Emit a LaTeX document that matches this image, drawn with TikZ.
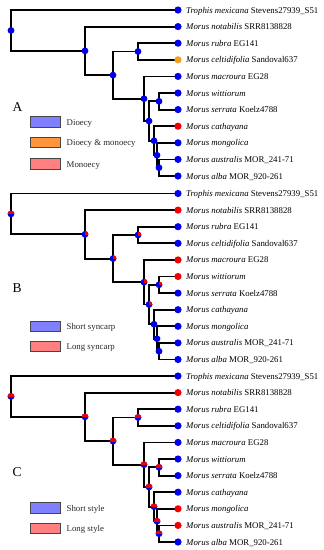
\documentclass[tikz,border=0pt]{standalone}
\usepackage{fontspec}
\setmainfont{Liberation Serif}
\usetikzlibrary{calc}
\pgfdeclarelayer{bg}
\pgfsetlayers{bg,main}
\definecolor{dotblue}{RGB}{0,0,235}
\definecolor{dotred}{RGB}{240,0,0}
\definecolor{dotorange}{RGB}{240,160,30}
\definecolor{legblue}{RGB}{128,128,255}
\definecolor{legorange}{RGB}{255,150,60}
\definecolor{legpink}{RGB}{255,128,128}
\definecolor{legedge}{RGB}{70,70,70}

\newcommand{\tipsep}{16.6}

\newcommand{\phylotree}[3]{%
  \foreach \i/\c in {#3}
    \node[tipdot, fill=\c] (#1t\i) at (178, {#2+10+\tipsep*\i}) {};
  \foreach \i/\lab in {0/{\textit{Trophis mexicana} Stevens27939\_S51},
                       1/{\textit{Morus notabilis} SRR8138828},
                       2/{\textit{Morus rubra} EG141},
                       3/{\textit{Morus celtidifolia} Sandoval637},
                       4/{\textit{Morus macroura} EG28},
                       5/{\textit{Morus wittiorum}},
                       6/{\textit{Morus serrata} Koelz4788},
                       7/{\textit{Morus cathayana}},
                       8/{\textit{Morus mongolica}},
                       9/{\textit{Morus australis} MOR\_241-71},
                       10/{\textit{Morus alba} MOR\_920-261}}
    \node[tiplab] (#1l\i) at (186, {#2+13+\tipsep*\i}) {\lab};
  \foreach \n/\x/\k in {r/11/1.23046875, n2/85/2.4609375, n4/113/3.921875,
                        n3/138/2.5, n5/144/5.34375, n6/149/6.6875,
                        ws/159/5.5, n7/154/7.875, n8/157/8.75, n9/159/9.5}
    \node[innerdot] (#1\n) at (\x, {#2+10+\tipsep*\k}) {};
  \begin{pgfonlayer}{bg}
    \foreach \p/\q in {r/t0, r/n2, n2/t1, n2/n4, n4/n3, n4/n5, n3/t2, n3/t3,
                       n5/t4, n5/n6, n6/ws, n6/n7, ws/t5, ws/t6, n7/t7, n7/n8,
                       n8/t8, n8/n9, n9/t9, n9/t10}
      \draw[branch] (#1\p.center) |- (#1\q.center);
  \end{pgfonlayer}
}

\newcommand{\halfred}[1]{%
  \begin{scope}
    \clip ([shift={(-5,0)}]#1.center) rectangle ++(10,-5);
    \fill[dotred] (#1.center) circle[radius=3.4];
  \end{scope}}
\newcommand{\quartred}[1]{%
  \begin{scope}
    \clip (#1.center) rectangle ++(5,-5);
    \fill[dotred] (#1.center) circle[radius=3.4];
  \end{scope}}

\begin{document}
\begin{tikzpicture}[x=1pt,y=-1pt,
  branch/.style={line width=1.8pt, black},
  tipdot/.style={circle, inner sep=0pt, minimum size=7.2pt},
  innerdot/.style={circle, inner sep=0pt, minimum size=6.8pt, fill=dotblue},
  tiplab/.style={anchor=base west, inner sep=0pt, font=\fontsize{8.8}{10}\selectfont},
  legbox/.style={rectangle, inner sep=0pt, minimum width=30pt, minimum height=10.5pt, draw=legedge, line width=0.8pt},
  legtext/.style={anchor=base west, inner sep=0pt, text=black!85, font=\fontsize{8.8}{10}\selectfont},
  panellab/.style={anchor=base west, inner sep=0pt, font=\fontsize{13.5}{15}\selectfont}]
\useasboundingbox (0,0) rectangle (324,550);

% ---------- Panel A ----------
\phylotree{A}{0}{0/dotblue,1/dotblue,2/dotblue,3/dotorange,4/dotblue,5/dotblue,6/dotblue,7/dotred,8/dotblue,9/dotblue,10/dotblue}
\node[panellab] (Alet) at (12.5,111.7) {A};
\node[legbox, fill=legblue] (Ab1) at (45,122) {};
\node[legtext] (At1) at (66.5,125) {Dioecy};
\node[legbox, fill=legorange] (Ab2) at (45,142.5) {};
\node[legtext] (At2) at (66.5,145.5) {Dioecy \& monoecy};
\node[legbox, fill=legpink] (Ab3) at (45,164) {};
\node[legtext] (At3) at (66.5,167) {Monoecy};

% ---------- Panel B ----------
\phylotree{B}{183.5}{0/dotblue,1/dotred,2/dotblue,3/dotblue,4/dotred,5/dotred,6/dotblue,7/dotblue,8/dotblue,9/dotblue,10/dotblue}
\halfred{Br}
\foreach \n in {n2,n4,n3,n5,n6,ws} {\quartred{B\n}}
\node[panellab] (Blet) at (12.5,292.7) {B};
\node[legbox, fill=legblue] (Bb1) at (45,326.5) {};
\node[legtext] (Bt1) at (66.5,329.5) {Short syncarp};
\node[legbox, fill=legpink] (Bb2) at (45,346.5) {};
\node[legtext] (Bt2) at (66.5,349.5) {Long syncarp};

% ---------- Panel C ----------
\phylotree{C}{366}{0/dotblue,1/dotred,2/dotblue,3/dotblue,4/dotblue,5/dotblue,6/dotblue,7/dotblue,8/dotred,9/dotred,10/dotblue}
\foreach \n in {r,n2,n4,n3,n5,n6,ws,n7,n8,n9} {\halfred{C\n}}
\node[panellab] (Clet) at (12.5,476.7) {C};
\node[legbox, fill=legblue] (Cb1) at (45,508) {};
\node[legtext] (Ct1) at (66.5,511) {Short style};
\node[legbox, fill=legpink] (Cb2) at (45,528.5) {};
\node[legtext] (Ct2) at (66.5,531.5) {Long style};
\end{tikzpicture}
\end{document}
